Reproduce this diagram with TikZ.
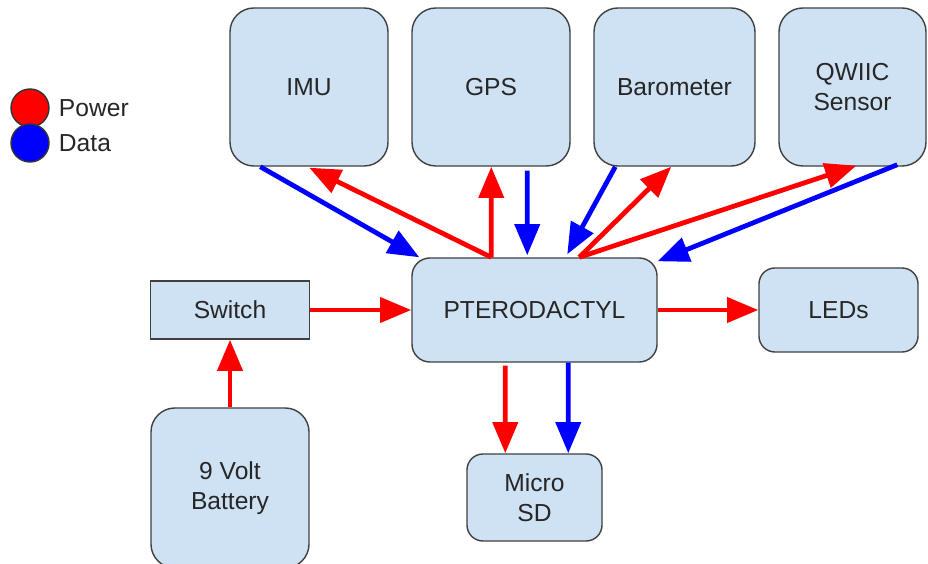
\documentclass[tikz,border=0pt]{standalone}
\usepackage{fontspec}
\setmainfont{Liberation Sans}
\usetikzlibrary{arrows.meta,calc}
\definecolor{boxfill}{HTML}{CFE2F3}
\definecolor{pwr}{HTML}{FF0000}
\definecolor{dat}{HTML}{0000FF}
\begin{document}
\begin{tikzpicture}[x=0.025cm,y=-0.025cm,
  font=\fontsize{17.5}{21}\selectfont,
  blk/.style={draw=black!75,fill=boxfill,rounded corners=0.6cm,align=center,
    text=black!85,line width=1pt,inner sep=0pt},
  pw/.style={color=pwr,line width=3.4pt,-{Triangle[length=0.78cm,width=0.62cm]}},
  dt/.style={color=dat,line width=3.4pt,-{Triangle[length=0.78cm,width=0.62cm]}},
  dot/.style={circle,draw=black!80,line width=1pt,minimum size=0.95cm,inner sep=0pt}]
  \useasboundingbox (0,0) rectangle (928,564);
  % legend
  \node[dot,fill=pwr] (lp) at (30,108) {};
  \node[dot,fill=dat] (ld) at (30,143) {};
  \node[right,text=black!85] (lpt) at (54,108) {Power};
  \node[right,text=black!85] (ldt) at (54,143) {Data};
  % sensors
  \node[blk,minimum width=3.95cm,minimum height=3.95cm] (imu) at (309,87) {IMU};
  \node[blk,minimum width=3.95cm,minimum height=3.95cm] (gps) at (491,87) {GPS};
  \node[blk,minimum width=4.025cm,minimum height=3.95cm] (baro) at (674.5,87) {Barometer};
  \node[blk,minimum width=3.675cm,minimum height=3.95cm] (qwiic) at (852.5,87) {QWIIC\\Sensor};
  % main board and the rest
  \node[blk,rounded corners=0.45cm,minimum width=6.125cm,minimum height=2.6cm] (ptero) at (534.5,310) {PTERODACTYL};
  \node[blk,rounded corners=0pt,minimum width=3.975cm,minimum height=1.45cm] (switch) at (230,310) {Switch};
  \node[blk,rounded corners=0.4cm,minimum width=3.975cm,minimum height=2.1cm] (leds) at (838.5,310) {LEDs};
  \node[blk,minimum width=3.95cm,minimum height=4cm] (batt) at (230,488) {9 Volt\\Battery};
  \node[blk,rounded corners=0.4cm,minimum width=3.375cm,minimum height=2.175cm] (sd) at (534.5,497.5) {Micro\\SD};
  % links
  \draw[dt] ($(imu.south west)+(31,0)$) -- ($(ptero.north west)+(8,0)$);
  \draw[pw] ($(ptero.north west)+(80,0)$) -- ($(imu.south west)+(80,1)$);
  \draw[pw] ($(ptero.north west)+(80,0)$) -- ($(gps.south west)+(80,0)$);
  \draw[dt] ($(gps.south west)+(116,4)$) -- ($(ptero.north west)+(116,-2)$);
  \draw[dt] ($(baro.south west)+(22,0)$) -- ($(ptero.north west)+(156,-3)$);
  \draw[pw] ($(ptero.north west)+(168,0)$) -- ($(baro.south west)+(78,0)$);
  \draw[pw] ($(ptero.north west)+(168,0)$) -- ($(qwiic.south west)+(78,-1)$);
  \draw[dt] ($(qwiic.south west)+(119,-2)$) -- ($(ptero.north east)+(0,4)$);
  \draw[pw] (switch.east) -- (ptero.west);
  \draw[pw] (batt.north) -- (switch.south);
  \draw[pw] (ptero.east) -- (leds.west);
  \draw[pw] ($(ptero.south west)+(94,3)$) -- ($(sd.north west)+(39,0)$);
  \draw[dt] ($(ptero.south west)+(157,0)$) -- ($(sd.north west)+(102,0)$);
\end{tikzpicture}
\end{document}
